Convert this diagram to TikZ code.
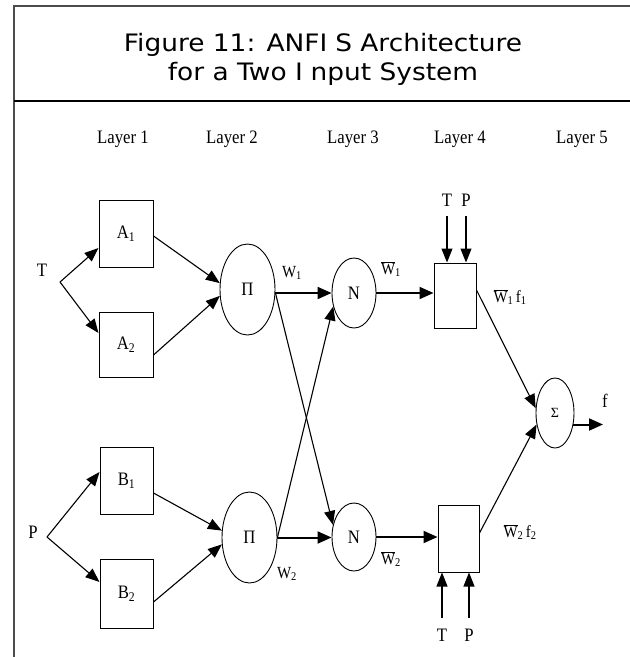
\documentclass[tikz,border=0pt]{standalone}
\usepackage{fontspec}
\usepackage{graphicx}
\setmainfont{Liberation Serif}
\newfontfamily\titlefont{DejaVu Sans}
\usetikzlibrary{arrows.meta,shapes.geometric}
\newcommand{\nx}[1]{\scalebox{0.88}[1]{#1}}
\newcommand{\wbar}{$\overline{\mbox{W}}$}
\begin{document}
\begin{tikzpicture}[x=1pt,y=-1pt,
  box/.style={draw, line width=1pt, inner sep=0pt},
  oval/.style={draw, ellipse, line width=0.9pt, inner sep=0pt},
  lbl/.style={inner sep=1pt, font=\fontsize{19}{21}\selectfont},
  wlbl/.style={inner sep=1pt, font=\fontsize{17}{19}\selectfont},
  tarrow/.style={line width=1.1pt, -{Triangle[length=14pt,width=11pt]}},
  barrow/.style={line width=2pt, -{Triangle[length=14pt,width=12pt]}},
  wire/.style={line width=1.1pt}
]
\useasboundingbox (0,0) rectangle (630,657);
% frame
\draw[line width=1.3pt, black!70] (630,6) -- (14,6) -- (14,657);
\draw[line width=2.4pt] (14,101) -- (630,101);
% title
\node[anchor=base, inner sep=0pt] (t1) at (323,51) {\titlefont\fontsize{24}{28}\selectfont\scalebox{1.1}[1]{Figure 11: ANFI\hspace{0.3em}S Architecture}};
\node[anchor=base, inner sep=0pt] (t2) at (323,80) {\titlefont\fontsize{24}{28}\selectfont\scalebox{1.1}[1]{for a Two I\hspace{0.3em}nput System}};
% layer labels
\node[anchor=base, lbl] (ly1) at (123,143) {\nx{Layer 1}};
\node[anchor=base, lbl] (ly2) at (232,143) {\nx{Layer 2}};
\node[anchor=base, lbl] (ly3) at (353,143) {\nx{Layer 3}};
\node[anchor=base, lbl] (ly4) at (460,143) {\nx{Layer 4}};
\node[anchor=base, lbl] (ly5) at (582,143) {\nx{Layer 5}};
% layer 1
\node[box, minimum width=54pt, minimum height=67pt, lbl] (A1) at (126,233.5) {\nx{A\textsubscript{1}}};
\node[box, minimum width=54pt, minimum height=65pt, lbl] (A2) at (126,344.5) {\nx{A\textsubscript{2}}};
\node[box, minimum width=53pt, minimum height=67pt, lbl] (B1) at (126.5,480.5) {\nx{B\textsubscript{1}}};
\node[box, minimum width=53pt, minimum height=69pt, lbl] (B2) at (126.5,593.5) {\nx{B\textsubscript{2}}};
% layer 2
\node[oval, minimum width=55pt, minimum height=91pt, lbl] (P1) at (247.5,289.5) {\nx{Π}};
\node[oval, minimum width=55pt, minimum height=91pt, lbl] (P2) at (249.5,537.5) {\nx{Π}};
% layer 3
\node[oval, minimum width=44pt, minimum height=70pt, lbl] (N1) at (354,293) {\nx{N}};
\node[oval, minimum width=44pt, minimum height=68pt, lbl] (N2) at (354,537) {\nx{N}};
% layer 4
\node[box, minimum width=42pt, minimum height=65pt] (L4a) at (455,295.5) {};
\node[box, minimum width=41pt, minimum height=67pt] (L4b) at (458.5,538.5) {};
% layer 5
\node[oval, minimum width=38pt, minimum height=70pt, inner sep=0pt, font=\fontsize{14}{16}\selectfont] (S) at (555,413) {Σ};
% inputs
\node[lbl] (T) at (42,270) {\nx{T}};
\node[lbl] (P) at (33,532) {\nx{P}};
\coordinate (fT) at (60,282);
\coordinate (fP) at (47,537);
\draw[tarrow] (fT) -- ([yshift=-14.5pt]A1.west);
\draw[tarrow] (fT) -- ([yshift=11.5pt]A2.west);
\draw[tarrow] (fP) -- ([yshift=8.5pt]B1.west);
\draw[tarrow] (fP) -- ([yshift=11.5pt]B2.west);
% layer 1 -> 2
\draw[tarrow] ([yshift=-2.5pt]A1.east) -- (P1.167);
\draw[tarrow] ([yshift=-10.5pt]A2.east) -- (P1.193);
\draw[tarrow] ([yshift=-12.5pt]B1.east) -- (P2.166);
\draw[tarrow] ([yshift=-8.5pt]B2.east) -- (P2.194);
% layer 2 -> 3
\coordinate (p1o) at ([yshift=-3.5pt]P1.east);
\draw[barrow] (p1o) -- (p1o -| N1.west);
\draw[barrow] (P2.east) -- (P2.east -| N2.west);
\draw[tarrow] (p1o) -- (N2.150);
\draw[tarrow] (P2.east) -- (N1.213);
\node[wlbl] (w1) at (292,273) {\nx{W\textsubscript{1}}};
\node[wlbl] (w2) at (287,574) {\nx{W\textsubscript{2}}};
% layer 3 -> 4
\draw[barrow] (N1.east) -- (N1.east -| L4a.west);
\draw[barrow] (N2.east) -- (N2.east -| L4b.west);
\node[wlbl] (wb1) at (391,269) {\nx{\wbar\textsubscript{1}}};
\node[wlbl] (wb2) at (391,559) {\nx{\wbar\textsubscript{2}}};
% T P inputs of layer 4
\node[lbl] (Ta) at (447,200) {\nx{T}};
\node[lbl] (Pa) at (466,200) {\nx{P}};
\draw[tarrow] ([yshift=-9pt]Ta.south) -- (Ta.south |- L4a.north);
\draw[tarrow] ([yshift=-9pt]Pa.south) -- (Pa.south |- L4a.north);
\node[lbl] (Tb) at (442,635) {\nx{T}};
\node[lbl] (Pb) at (469,635) {\nx{P}};
\draw[tarrow] ([yshift=10pt]Tb.north) -- (Tb.north |- L4b.south);
\draw[tarrow] ([yshift=10pt]Pb.north) -- (Pb.north |- L4b.south);
% layer 4 -> 5
\draw[tarrow] ([yshift=5.5pt]L4a.east) -- (S.166);
\draw[tarrow] ([yshift=5.5pt]L4b.east) -- (S.212);
\node[wlbl] (wf1) at (510,297) {\nx{\wbar\textsubscript{1}\,f\textsubscript{1}}};
\node[wlbl] (wf2) at (520,532) {\nx{\wbar\textsubscript{2}\,f\textsubscript{2}}};
% output
\coordinate (fout) at (603,425);
\draw[barrow] (S.-32) -- (S.-32 -| fout);
\node[lbl] (f) at (605,401) {\nx{f}};
\end{tikzpicture}
\end{document}
